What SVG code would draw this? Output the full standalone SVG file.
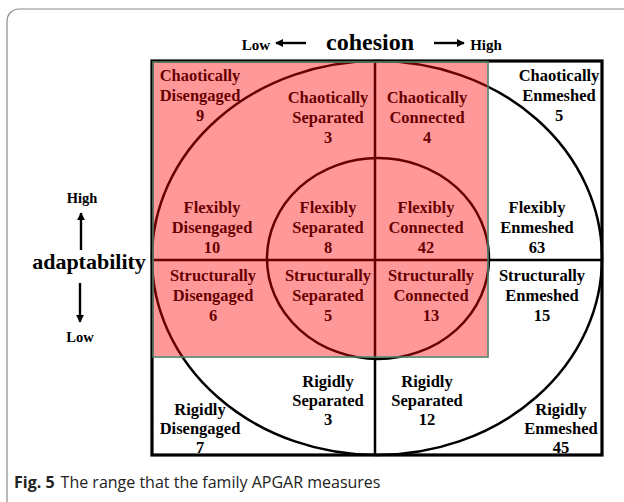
<svg xmlns="http://www.w3.org/2000/svg" width="624" height="502" viewBox="0 0 624 502">
<defs>
<style>
.cell{font-family:"Liberation Serif","Times New Roman",serif;font-weight:bold;font-size:16.5px;text-anchor:middle;fill:#000}
.ax{font-family:"Liberation Serif","Times New Roman",serif;font-weight:bold;text-anchor:middle;fill:#000}
.ln{stroke:#000;stroke-width:2.5;fill:none}
.cap{font-family:"Open Sans","Noto Sans",sans-serif;font-size:16px;fill:#222}
</style>
<marker id="ah" viewBox="0 0 10 10" refX="9" refY="5" markerWidth="3.4" markerHeight="3.4" orient="auto">
<path d="M0,0 L10,5 L0,10 z" fill="#000"/>
</marker>
</defs>
<rect x="0" y="0" width="624" height="502" fill="#fff"/>
<rect x="7" y="9" width="640" height="520" rx="12" ry="12" fill="none" stroke="#8a8a8a" stroke-width="1.2"/>

<g id="axes">
<text class="ax" x="256" y="50" font-size="15">Low</text>
<text class="ax" x="370" y="50" font-size="24">cohesion</text>
<text class="ax" x="486" y="50" font-size="15">High</text>
<text class="ax" x="82" y="203" font-size="14.5">High</text>
<text class="ax" x="89" y="269" font-size="22">adaptability</text>
<text class="ax" x="80" y="342" font-size="14.5">Low</text>
</g>

<g id="connectors">
<line x1="306" y1="43" x2="276" y2="43" stroke="#000" stroke-width="2.4" marker-end="url(#ah)"/>
<line x1="434" y1="43" x2="464" y2="43" stroke="#000" stroke-width="2.4" marker-end="url(#ah)"/>
<line x1="81" y1="250" x2="81" y2="213" stroke="#000" stroke-width="2.4" marker-end="url(#ah)"/>
<line x1="80" y1="283" x2="80" y2="322" stroke="#000" stroke-width="2.4" marker-end="url(#ah)"/>
</g>

<g id="grid">
<ellipse class="ln" cx="377" cy="258" rx="225" ry="197"/>
<ellipse class="ln" cx="378" cy="258.5" rx="111" ry="100.5"/>
<line class="ln" x1="375" y1="61" x2="375" y2="455"/>
<line class="ln" x1="152" y1="260" x2="602" y2="260"/>
<rect x="152" y="61" width="450" height="394" fill="none" stroke="#000" stroke-width="3.2"/>
</g>

<g id="chaotically-disengaged"><text class="cell" x="200" y="81">Chaotically<tspan x="200" dy="20">Disengaged</tspan><tspan x="200" dy="20">9</tspan></text></g>
<g id="chaotically-separated"><text class="cell" x="328" y="103">Chaotically<tspan x="328" dy="20">Separated</tspan><tspan x="328" dy="20">3</tspan></text></g>
<g id="chaotically-connected"><text class="cell" x="427" y="103">Chaotically<tspan x="427" dy="20">Connected</tspan><tspan x="427" dy="20">4</tspan></text></g>
<g id="chaotically-enmeshed"><text class="cell" x="559" y="81">Chaotically<tspan x="559" dy="20">Enmeshed</tspan><tspan x="559" dy="20">5</tspan></text></g>

<g id="flexibly-disengaged"><text class="cell" x="212" y="213">Flexibly<tspan x="212" dy="20">Disengaged</tspan><tspan x="212" dy="20">10</tspan></text></g>
<g id="flexibly-separated"><text class="cell" x="328" y="213">Flexibly<tspan x="328" dy="20">Separated</tspan><tspan x="328" dy="20">8</tspan></text></g>
<g id="flexibly-connected"><text class="cell" x="426" y="213">Flexibly<tspan x="426" dy="20">Connected</tspan><tspan x="426" dy="20">42</tspan></text></g>
<g id="flexibly-enmeshed"><text class="cell" x="537" y="213">Flexibly<tspan x="537" dy="20">Enmeshed</tspan><tspan x="537" dy="20">63</tspan></text></g>

<g id="structurally-disengaged"><text class="cell" x="213" y="281">Structurally<tspan x="213" dy="20">Disengaged</tspan><tspan x="213" dy="20">6</tspan></text></g>
<g id="structurally-separated"><text class="cell" x="328" y="281">Structurally<tspan x="328" dy="20">Separated</tspan><tspan x="328" dy="20">5</tspan></text></g>
<g id="structurally-connected"><text class="cell" x="431" y="281">Structurally<tspan x="431" dy="20">Connected</tspan><tspan x="431" dy="20">13</tspan></text></g>
<g id="structurally-enmeshed"><text class="cell" x="542" y="281">Structurally<tspan x="542" dy="20">Enmeshed</tspan><tspan x="542" dy="20">15</tspan></text></g>

<g id="rigidly-disengaged"><text class="cell" x="200" y="415">Rigidly<tspan x="200" dy="19">Disengaged</tspan><tspan x="200" dy="19">7</tspan></text></g>
<g id="rigidly-separated-left"><text class="cell" x="328" y="387">Rigidly<tspan x="328" dy="19">Separated</tspan><tspan x="328" dy="19">3</tspan></text></g>
<g id="rigidly-separated-right"><text class="cell" x="427" y="387">Rigidly<tspan x="427" dy="19">Separated</tspan><tspan x="427" dy="19">12</tspan></text></g>
<g id="rigidly-enmeshed"><text class="cell" x="561" y="415">Rigidly<tspan x="561" dy="19">Enmeshed</tspan><tspan x="561" dy="19">45</tspan></text></g>

<g id="highlight">
<rect x="152" y="61" width="337" height="297" fill="#ff0000" fill-opacity="0.4"/>
<rect x="153" y="62" width="335" height="295" fill="none" stroke="#3f8f72" stroke-width="1.4"/>
</g>

<g id="caption">
<text class="cap" x="14" y="488"><tspan font-weight="bold">Fig. 5</tspan><tspan dx="6">The range that the family APGAR measures</tspan></text>
</g>
</svg>
